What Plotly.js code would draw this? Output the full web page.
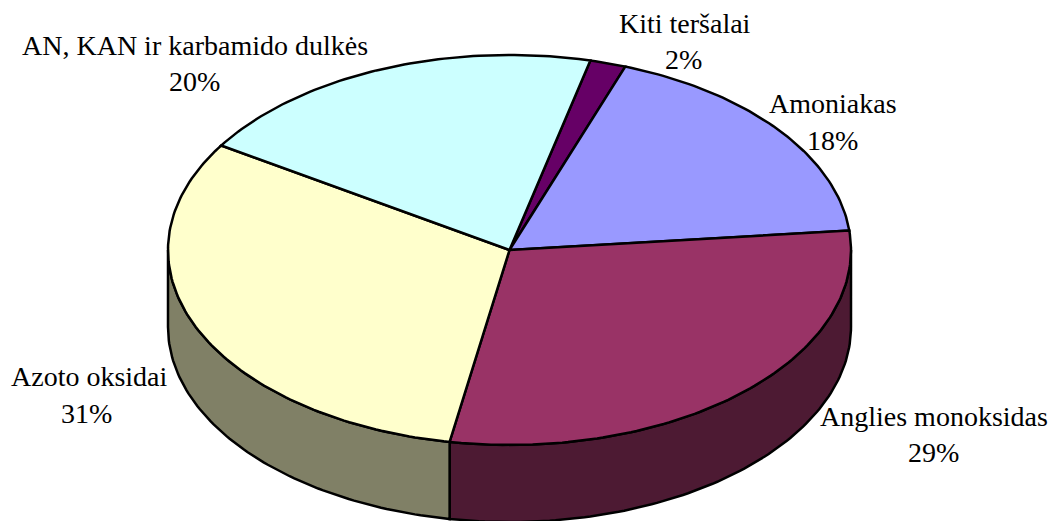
<!DOCTYPE html>
<html>
<head>
<meta charset="utf-8">
<script src="https://cdn.plot.ly/plotly-3.0.1.min.js"></script>
<style>html,body{margin:0;padding:0;background:#fff}</style>
</head>
<body>
<div id="chart" style="width:1051px;height:521px"></div>
<script>
const categories = ["Kiti teršalai", "Amoniakas", "Anglies monoksidas", "Azoto oksidai", "AN, KAN ir karbamido dulkės"];
const values = [1.7, 17.9, 29.4, 31.2, 19.8];
const topColors = ["#660066", "#9999ff", "#993366", "#ffffcc", "#ccffff"];
const sideColors = ["#330033", "#4d4d80", "#4d1a33", "#808066", "#668080"];
const labelX = [685, 833, 934, 89, 195];
const labelY = [23, 103, 416, 376, 45];
const pctX = [683, 832, 933, 86, 194];
const pctY = [59, 140, 452, 413, 81];

const cx = 509.5, cy = 250, rx = 341.5, ry = 195, depth = 77, firstAngle = 13.7;
const total = values.reduce((a, b) => a + b, 0);

function pt(deg, dy) {
  const r = deg * Math.PI / 180;
  return [cx + rx * Math.sin(r), cy - ry * Math.cos(r) + (dy || 0)];
}
function arc(a0, a1, dy) {
  const n = Math.max(2, Math.ceil(Math.abs(a1 - a0)));
  const out = [];
  for (let i = 0; i <= n; i++) out.push(pt(a0 + (a1 - a0) * i / n, dy));
  return out;
}
function poly(points, color, name) {
  return {
    type: "scatter", mode: "lines", name: name,
    x: points.map(p => p[0]), y: points.map(p => p[1]),
    fill: "toself", fillcolor: color,
    line: {color: "#000", width: 2.5, shape: "linear"},
    hoverinfo: "name", showlegend: false
  };
}

const sides = [], tops = [];
let start = firstAngle;
values.forEach((v, i) => {
  const end = start + v / total * 360;
  [0, 360].forEach(shift => {
    const a = Math.max(start, 90 + shift), b = Math.min(end, 270 + shift);
    if (b > a) {
      const pts = arc(a, b, 0).concat(arc(b, a, depth));
      pts.push(pts[0]);
      sides.push(poly(pts, sideColors[i], categories[i]));
    }
  });
  const pts = [[cx, cy]].concat(arc(start, end, 0));
  pts.push([cx, cy]);
  tops.push(poly(pts, topColors[i], categories[i]));
  start = end;
});

const font = {family: "Liberation Serif, Times New Roman, serif", size: 28, color: "#000"};
const annotations = [];
categories.forEach((c, i) => {
  annotations.push({x: labelX[i], y: labelY[i], text: c, showarrow: false, font: font, xanchor: "center", yanchor: "middle"});
  annotations.push({x: pctX[i], y: pctY[i], text: Math.round(values[i]) + "%", showarrow: false, font: font, xanchor: "center", yanchor: "middle"});
});

Plotly.newPlot("chart", sides.concat(tops), {
  width: 1051, height: 521,
  margin: {l: 0, r: 0, t: 0, b: 0},
  paper_bgcolor: "#fff", plot_bgcolor: "#fff",
  xaxis: {range: [0, 1051], visible: false, fixedrange: true},
  yaxis: {range: [521, 0], visible: false, fixedrange: true},
  annotations: annotations,
  showlegend: false
}, {displayModeBar: false, staticPlot: true});
</script>
</body>
</html>
